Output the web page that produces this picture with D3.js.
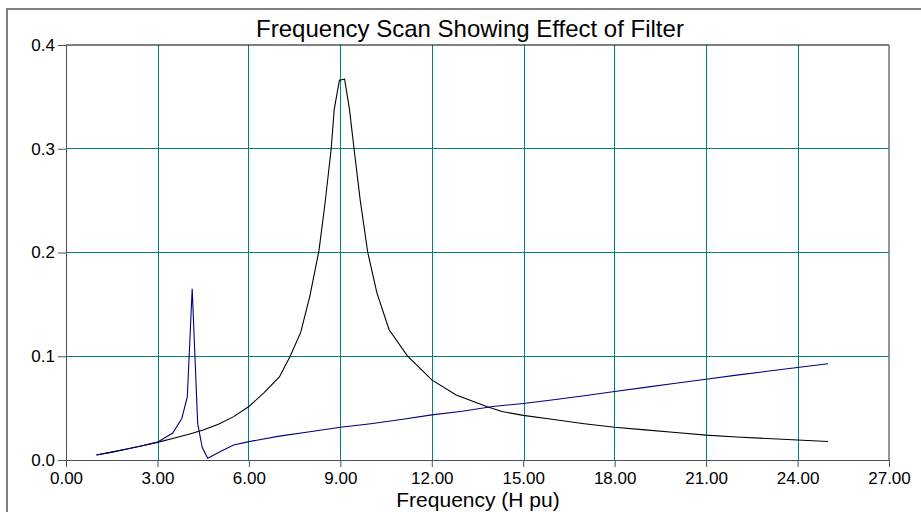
<!DOCTYPE html>
<html>
<head>
<meta charset="utf-8">
<script src="https://cdn.jsdelivr.net/npm/d3@7"></script>
<style>
  body { margin: 0; background: #fff; }
  text { font-family: "Liberation Sans", Arial, sans-serif; fill: #000; }
</style>
</head>
<body>
<script>
// Frequency scan: impedance magnitude vs harmonic order, with and without filter

var width = 921;
var height = 512;

// harmonic order (H pu) and magnitude, no filter (black)
var noFilterH = [1.0, 1.5, 2.0, 2.5, 3.0, 3.5, 4.0, 4.5, 5.0, 5.5, 6.0, 6.5, 7.0,
  7.35, 7.7, 8.0, 8.3, 8.5, 8.7, 8.8, 8.97, 9.14, 9.3, 9.45, 9.65, 9.9, 10.2,
  10.6, 11.2, 12.0, 12.8, 13.8, 14.3, 15, 16, 17, 18, 19, 20, 21, 22, 23, 24, 25];
var noFilterZ = [0.0048, 0.0076, 0.0106, 0.0137, 0.0170, 0.0207, 0.0245, 0.0290,
  0.0345, 0.0418, 0.0515, 0.0650, 0.0800, 0.0997, 0.123, 0.158, 0.202, 0.248,
  0.300, 0.338, 0.366, 0.367, 0.338, 0.300, 0.251, 0.200, 0.161, 0.1255, 0.1004,
  0.0772, 0.0627, 0.0515, 0.0467, 0.0430, 0.0390, 0.0350, 0.0315, 0.0290,
  0.0265, 0.0240, 0.0222, 0.0207, 0.0193, 0.0178];

// with filter (blue)
var filterH = [1.0, 1.5, 2.0, 2.5, 3.0, 3.5, 3.8, 3.98, 4.14, 4.32, 4.47, 4.65,
  5.05, 5.5, 6.0, 7.0, 8.0, 9.0, 10, 11, 12, 13, 14, 15, 16, 17, 18, 19, 20,
  21, 22, 23, 24, 25];
var filterZ = [0.0048, 0.0076, 0.0106, 0.0137, 0.0172, 0.0260, 0.0400, 0.0610,
  0.165, 0.035, 0.012, 0.0016, 0.0080, 0.0145, 0.0177, 0.0230, 0.0272, 0.0315,
  0.0350, 0.0390, 0.0435, 0.0470, 0.0515, 0.0545, 0.0580, 0.0620, 0.0660,
  0.0700, 0.0740, 0.0778, 0.0818, 0.0855, 0.0892, 0.0927];

var xTicks = [0, 3, 6, 9, 12, 15, 18, 21, 24, 27];
var yTicks = [0, 0.1, 0.2, 0.3, 0.4];

var plotLeft = 66, plotRight = 889, plotTop = 45, plotBottom = 460;

var xScale = d3.scaleLinear().domain([0, 27]).range([plotLeft, plotRight]);
var yScale = d3.scaleLinear().domain([0, 0.4]).range([plotBottom, plotTop]);

// snap 1px grid lines onto an even pixel so the teal survives image encoding
function crisp(v){ return 2 * Math.round(v / 2) + 0.5; }

var svg = d3.select("body")
            .append("svg")
            .attr("width", width)
            .attr("height", height);

// outer frame
svg.append("rect")
   .attr("x", 7)
   .attr("y", 9)
   .attr("width", 930)
   .attr("height", 520)
   .attr("fill", "none")
   .attr("stroke", "#808080")
   .attr("stroke-width", 2);

svg.append("text")
   .attr("x", 470)
   .attr("y", 37)
   .attr("text-anchor", "middle")
   .attr("font-size", "24px")
   .text("Frequency Scan Showing Effect of Filter");

// grid
svg.append("g")
   .selectAll("line")
   .data(xTicks.slice(1, -1))
   .enter()
   .append("line")
   .attr("x1", function(d){ return crisp(xScale(d)); })
   .attr("x2", function(d){ return crisp(xScale(d)); })
   .attr("y1", plotTop)
   .attr("y2", plotBottom)
   .attr("stroke", "#008080")
   .attr("stroke-width", 1);

svg.append("g")
   .selectAll("line")
   .data(yTicks.slice(1, -1))
   .enter()
   .append("line")
   .attr("x1", plotLeft)
   .attr("x2", plotRight)
   .attr("y1", function(d){ return crisp(yScale(d)); })
   .attr("y2", function(d){ return crisp(yScale(d)); })
   .attr("stroke", "#008080")
   .attr("stroke-width", 1);

// axes
var xAxis = d3.axisBottom(xScale)
              .tickValues(xTicks)
              .tickFormat(d3.format(".2f"))
              .tickSizeInner(7)
              .tickSizeOuter(0)
              .tickPadding(5);

var yAxis = d3.axisLeft(yScale)
                .tickValues(yTicks)
                .tickFormat(d3.format(".1f"))
                .tickSizeInner(8)
                .tickSizeOuter(0)
                .tickPadding(3);

var gx = svg.append("g")
   .attr("transform", "translate(0," + plotBottom + ")")
   .call(xAxis);

var gy = svg.append("g")
   .attr("transform", "translate(" + plotLeft + ",0)")
   .call(yAxis);

[gx, gy].forEach(function(g){
  g.selectAll("path").attr("stroke", "#505050");
  g.selectAll("line").attr("stroke", "#505050");
  g.selectAll("text")
   .attr("font-family", "'Liberation Sans', Arial, sans-serif")
   .attr("font-size", "17px")
   .attr("fill", "#000");
});

// top and right frame of plot area
svg.append("line")
   .attr("x1", plotLeft).attr("x2", plotRight)
   .attr("y1", plotTop).attr("y2", plotTop)
   .attr("stroke", "#000");
svg.append("line")
   .attr("x1", plotRight).attr("x2", plotRight)
   .attr("y1", plotTop).attr("y2", plotBottom)
   .attr("stroke", "#707070")
   .attr("stroke-width", 1.5);

svg.append("text")
   .attr("x", 478)
   .attr("y", 507)
   .attr("text-anchor", "middle")
   .attr("font-size", "21px")
   .text("Frequency (H pu)");

// curves
var line = d3.line()
             .x(function(d){ return xScale(d[0]); })
             .y(function(d){ return yScale(d[1]); });

svg.append("path")
   .datum(d3.zip(noFilterH, noFilterZ))
   .attr("d", line)
   .attr("fill", "none")
   .attr("stroke", "#000")
   .attr("stroke-width", 1.1);

svg.append("path")
   .datum(d3.zip(filterH, filterZ))
   .attr("d", line)
   .attr("fill", "none")
   .attr("stroke", "#000080")
   .attr("stroke-width", 1.1);
</script>
</body>
</html>
